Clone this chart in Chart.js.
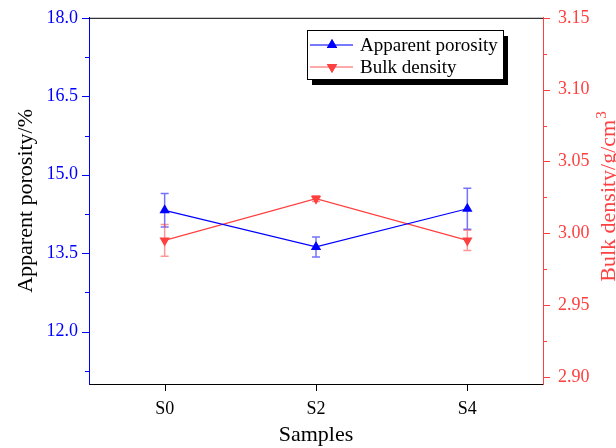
<!DOCTYPE html>
<html>
<head>
<meta charset="utf-8">
<script src="https://cdn.jsdelivr.net/npm/chart.js@4.4.0/dist/chart.umd.min.js"></script>
<style>
  body { margin: 0; background: #fff; }
  #wrap { width: 616px; height: 448px; }
</style>
</head>
<body>
<div id="wrap"><canvas id="chart" width="616" height="448"></canvas></div>
<script>
const samples = ['S0', 'S2', 'S4'];
const porosity = [14.32, 13.62, 14.35];
const porosityErr = [0.32, 0.19, 0.39];
const density = [2.995, 3.024, 2.995];
const densityErr = [0.011, 0.002, 0.007];
const porosityTicks = [12.0, 13.5, 15.0, 16.5, 18.0];
const porosityMinor = [11.25, 12.75, 14.25, 15.75, 17.25];
const densityTicks = [2.90, 2.95, 3.00, 3.05, 3.10, 3.15];
const densityMinor = [2.925, 2.975, 3.025, 3.075, 3.125];

const BLUE = '#0000ff';
const RED = '#ff4040';
const FONT = 'Liberation Serif';
Chart.defaults.font.family = FONT;

// error bars, tick marks, titles and the boxed legend
const extras = {
  id: 'extras',
  beforeDatasetsDraw(chart) {
    const { ctx, scales } = chart;
    const bars = [
      { vals: porosity, err: porosityErr, axis: scales.y, color: 'rgba(0,0,255,0.55)' },
      { vals: density, err: densityErr, axis: scales.y1, color: 'rgba(255,64,64,0.55)' }
    ];
    ctx.save();
    ctx.lineWidth = 1.5;
    bars.forEach(b => {
      ctx.strokeStyle = b.color;
      b.vals.forEach((v, i) => {
        const x = scales.x.getPixelForValue(i);
        const top = b.axis.getPixelForValue(v + b.err[i]);
        const bot = b.axis.getPixelForValue(v - b.err[i]);
        ctx.beginPath();
        ctx.moveTo(x, top); ctx.lineTo(x, bot);
        ctx.moveTo(x - 4, top); ctx.lineTo(x + 4, top);
        ctx.moveTo(x - 4, bot); ctx.lineTo(x + 4, bot);
        ctx.stroke();
      });
    });
    ctx.restore();
  },
  afterDraw(chart) {
    const { ctx, chartArea: a, scales } = chart;
    ctx.save();
    ctx.lineWidth = 1;

    // top frame line
    ctx.strokeStyle = '#000';
    ctx.beginPath();
    ctx.moveTo(a.left, a.top + 0.5); ctx.lineTo(a.right, a.top + 0.5);
    ctx.stroke();

    // x ticks
    ctx.beginPath();
    samples.forEach((s, i) => {
      const x = Math.round(scales.x.getPixelForValue(i)) + 0.5;
      ctx.moveTo(x, a.bottom); ctx.lineTo(x, a.bottom + 7);
    });
    ctx.stroke();

    // left ticks
    ctx.strokeStyle = BLUE;
    ctx.beginPath();
    porosityTicks.concat(porosityMinor).forEach((v, i) => {
      const y = Math.round(scales.y.getPixelForValue(v)) + 0.5;
      ctx.moveTo(a.left, y); ctx.lineTo(a.left - (i < porosityTicks.length ? 7 : 4), y);
    });
    ctx.stroke();

    // right ticks
    ctx.strokeStyle = RED;
    ctx.beginPath();
    densityTicks.concat(densityMinor).forEach((v, i) => {
      const y = Math.round(scales.y1.getPixelForValue(v)) + 0.5;
      ctx.moveTo(a.right, y); ctx.lineTo(a.right + (i < densityTicks.length ? 7 : 4), y);
    });
    ctx.stroke();

    // axis titles
    ctx.font = '22px ' + FONT;
    ctx.textBaseline = 'alphabetic';
    ctx.textAlign = 'center';
    ctx.fillStyle = '#000';
    ctx.fillText('Samples', (a.left + a.right) / 2, 441);

    ctx.save();
    ctx.translate(32, (a.top + a.bottom) / 2);
    ctx.rotate(-Math.PI / 2);
    ctx.fillText('Apparent porosity/%', 0, 0);
    ctx.restore();

    ctx.save();
    ctx.translate(615, 197);
    ctx.rotate(-Math.PI / 2);
    ctx.fillStyle = RED;
    ctx.textAlign = 'left';
    const main = 'Bulk density/g/cm';
    const w = ctx.measureText(main).width;
    ctx.font = '15px ' + FONT;
    const w3 = ctx.measureText('3').width;
    const start = -(w + w3) / 2;
    ctx.fillText('3', start + w + 1, -9);
    ctx.font = '22px ' + FONT;
    ctx.fillText(main, start, 0);
    ctx.restore();

    // legend box with shadow
    const lx = 307, ly = 30, lw = 196, lh = 49;
    ctx.fillStyle = '#000';
    ctx.fillRect(lx + 5, ly + 6, lw, lh);
    ctx.fillStyle = '#fff';
    ctx.fillRect(lx, ly, lw, lh);
    ctx.strokeStyle = '#000';
    ctx.strokeRect(lx + 0.5, ly + 0.5, lw, lh);

    const items = [
      { text: 'Apparent porosity', line: 'rgba(0,0,255,0.7)', color: BLUE, rot: 0, y: 45 },
      { text: 'Bulk density', line: 'rgba(255,64,64,0.6)', color: RED, rot: 180, y: 67 }
    ];
    items.forEach(it => {
      ctx.strokeStyle = it.line;
      ctx.lineWidth = 1.5;
      ctx.beginPath();
      ctx.moveTo(310, it.y); ctx.lineTo(353, it.y);
      ctx.stroke();
      ctx.fillStyle = it.color;
      Chart.helpers.drawPoint(ctx, { pointStyle: 'triangle', radius: 6, rotation: it.rot, borderWidth: 0 }, 332, it.y);
      ctx.fill();
      ctx.fillStyle = '#000';
      ctx.font = '19px ' + FONT;
      ctx.textAlign = 'left';
      ctx.fillText(it.text, 360, it.y + 6);
    });
    ctx.restore();
  }
};

new Chart(document.getElementById('chart'), {
  type: 'line',
  data: {
    labels: samples,
    datasets: [
      {
        label: 'Apparent porosity',
        data: porosity,
        yAxisID: 'y',
        borderColor: BLUE,
        backgroundColor: BLUE,
        borderWidth: 1.2,
        pointStyle: 'triangle',
        pointRadius: 6,
        pointBorderWidth: 0
      },
      {
        label: 'Bulk density',
        data: density,
        yAxisID: 'y1',
        borderColor: RED,
        backgroundColor: RED,
        borderWidth: 1.2,
        pointStyle: 'triangle',
        pointRotation: 180,
        pointRadius: 6,
        pointBorderWidth: 0
      }
    ]
  },
  options: {
    responsive: false,
    animation: false,
    layout: { padding: { top: 9, left: 0, right: 0, bottom: 0 } },
    plugins: { legend: { display: false }, tooltip: { enabled: false } },
    scales: {
      x: {
        offset: true,
        grid: { display: false },
        border: { display: true, color: '#000', width: 1 },
        ticks: { color: '#000', font: { family: FONT, size: 18 }, padding: 6 },
        afterFit: s => { s.height = 64; }
      },
      y: {
        position: 'left',
        min: 11, max: 18,
        grid: { display: false },
        border: { display: true, color: BLUE, width: 1 },
        afterBuildTicks: s => { s.ticks = porosityTicks.map(v => ({ value: v })); },
        ticks: { color: BLUE, font: { family: FONT, size: 18 }, padding: 3, callback: v => v.toFixed(1) },
        afterFit: s => { s.width = 89; }
      },
      y1: {
        position: 'right',
        min: 2.895, max: 3.15,
        grid: { display: false },
        border: { display: true, color: RED, width: 1 },
        afterBuildTicks: s => { s.ticks = densityTicks.map(v => ({ value: v })); },
        ticks: { color: RED, font: { family: FONT, size: 18 }, padding: 7, callback: v => v.toFixed(2) },
        afterFit: s => { s.width = 73; }
      }
    }
  },
  plugins: [extras]
});
</script>
</body>
</html>
